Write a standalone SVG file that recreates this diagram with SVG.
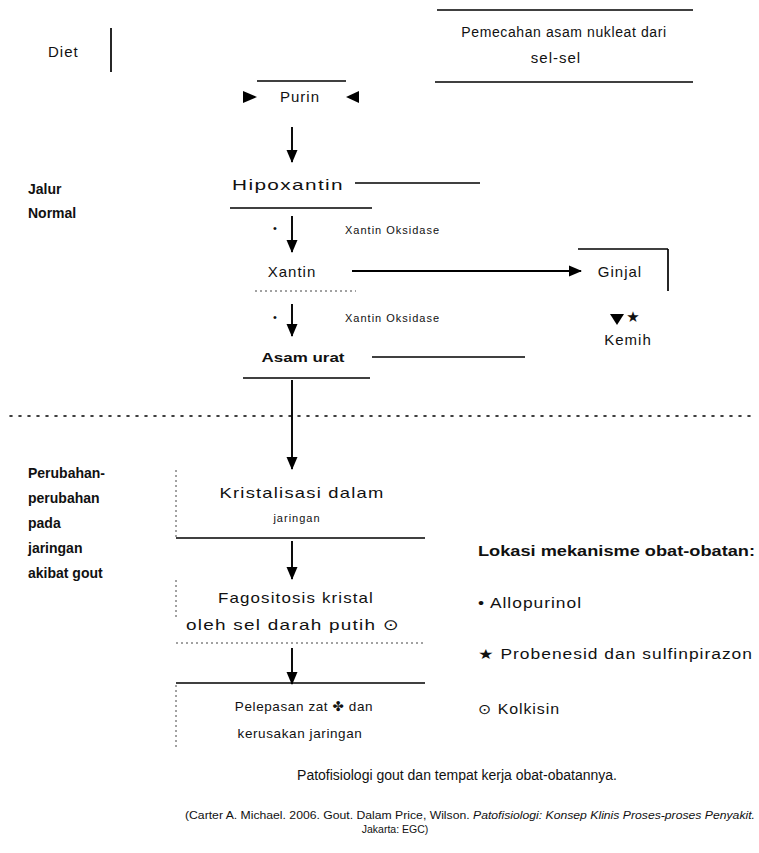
<svg xmlns="http://www.w3.org/2000/svg" width="759" height="853" viewBox="0 0 759 853">
<defs>
<marker id="ah" markerWidth="13" markerHeight="12" refX="12" refY="6" orient="auto" markerUnits="userSpaceOnUse">
<path d="M0,0.5 L13,6 L0,11.5 Z" fill="#000"/>
</marker>
<style>
text{font-family:"Liberation Sans","DejaVu Sans",sans-serif;fill:#111}
.t{font-size:15px;letter-spacing:1px}
.m{font-size:13.5px;letter-spacing:0.6px}
.s{font-size:11px;letter-spacing:1px}
.b{font-size:14px;font-weight:bold}
.lg{font-size:14px;letter-spacing:0.8px}
.ln{stroke:#000;stroke-width:1.7;fill:none}
.dot{stroke:#444;stroke-width:1;stroke-dasharray:2 3;fill:none}
.c{stroke:#000;stroke-width:1.9;fill:none;marker-end:url(#ah)}
</style>
</defs>
<rect width="759" height="853" fill="#fff"/>

<g id="diet">
<line class="ln" x1="111" y1="28" x2="111" y2="72"/>
<text class="t" x="48" y="57">Diet</text>
</g>

<g id="sumber">
<line class="ln" x1="437" y1="10" x2="693" y2="10"/>
<line class="ln" x1="435" y1="82" x2="693" y2="82"/>
<text x="564" y="37" text-anchor="middle" style="font-size:14px;letter-spacing:0.6px">Pemecahan asam nukleat dari</text>
<text class="t" x="556" y="63" text-anchor="middle">sel-sel</text>
</g>

<g id="purin">
<line class="ln" x1="257" y1="81" x2="346" y2="81"/>
<polygon points="243,91 257,97 243,103" fill="#000"/>
<polygon points="359,91 346,97 359,103" fill="#000"/>
<text class="t" x="300" y="102" text-anchor="middle">Purin</text>
</g>

<g id="hipoxantin">
<text class="t" x="288" y="190" text-anchor="middle" textLength="112" lengthAdjust="spacingAndGlyphs">Hipoxantin</text>
<line class="ln" x1="230" y1="208" x2="372" y2="208"/>
</g>

<g id="xantin">
<text class="t" x="292" y="277" text-anchor="middle">Xantin</text>
<line class="dot" x1="255" y1="291" x2="356" y2="291"/>
</g>

<g id="asam-urat">
<text x="303" y="362" text-anchor="middle" style="font-size:13px;font-weight:bold" textLength="83" lengthAdjust="spacingAndGlyphs">Asam urat</text>
<line class="ln" x1="243" y1="378" x2="370" y2="378"/>
</g>

<g id="ginjal">
<line class="ln" x1="578" y1="249" x2="668" y2="249"/>
<line class="ln" x1="668" y1="249" x2="668" y2="291"/>
<text class="t" x="620" y="277" text-anchor="middle">Ginjal</text>
</g>

<g id="kemih">
<polygon points="610,314 624,314 617,325" fill="#000"/>
<text x="633" y="322" text-anchor="middle" style="font-size:15px">★</text>
<text class="t" x="628" y="345" text-anchor="middle">Kemih</text>
</g>

<g id="kristalisasi">
<line class="dot" x1="176" y1="470" x2="176" y2="537"/>
<line class="ln" x1="176" y1="538" x2="425" y2="538"/>
<text class="t" x="302" y="498" text-anchor="middle" textLength="165" lengthAdjust="spacingAndGlyphs">Kristalisasi dalam</text>
<text class="s" x="297" y="522" text-anchor="middle">jaringan</text>
</g>

<g id="fagositosis">
<line class="dot" x1="176" y1="580" x2="176" y2="618"/>
<line class="dot" x1="176" y1="643" x2="425" y2="643"/>
<text class="t" x="296" y="603" text-anchor="middle" textLength="156" lengthAdjust="spacingAndGlyphs">Fagositosis kristal</text>
<text class="t" x="293" y="630" text-anchor="middle" textLength="214" lengthAdjust="spacingAndGlyphs">oleh sel darah putih ⊙</text>
</g>

<g id="pelepasan">
<line class="ln" x1="176" y1="683" x2="425" y2="683"/>
<line class="dot" x1="176" y1="685" x2="176" y2="748"/>
<text class="m" x="304" y="711" text-anchor="middle">Pelepasan zat ✤ dan</text>
<text class="m" x="300" y="738" text-anchor="middle">kerusakan jaringan</text>
</g>

<g id="connectors">
<line class="c" x1="292" y1="127" x2="292" y2="162"/>
<line class="c" x1="292" y1="216" x2="292" y2="252"/>
<line class="c" x1="292" y1="304" x2="292" y2="336"/>
<line class="c" x1="292" y1="380" x2="292" y2="469"/>
<line class="c" x1="292" y1="541" x2="292" y2="579"/>
<line class="c" x1="292" y1="648" x2="292" y2="684"/>
<line class="c" x1="352" y1="271" x2="581" y2="271"/>
<line class="ln" x1="355" y1="183" x2="480" y2="183"/>
<line class="ln" x1="372" y1="357" x2="525" y2="357"/>
</g>

<g id="enzim">
<text x="273" y="232" style="font-size:11px">•</text>
<text class="s" x="345" y="234">Xantin Oksidase</text>
<text x="273" y="321" style="font-size:11px">•</text>
<text class="s" x="345" y="322">Xantin Oksidase</text>
</g>

<line x1="10" y1="416" x2="752" y2="416" stroke="#000" stroke-width="1.6" stroke-dasharray="2 7" stroke-linecap="round"/>

<g id="label-jalur">
<text class="b" x="28" y="194">Jalur</text>
<text class="b" x="28" y="218">Normal</text>
</g>

<g id="label-perubahan">
<text class="b" x="28" y="478">Perubahan-</text>
<text class="b" x="28" y="503">perubahan</text>
<text class="b" x="28" y="528">pada</text>
<text class="b" x="28" y="553">jaringan</text>
<text class="b" x="28" y="578">akibat gout</text>
</g>

<g id="legend">
<text x="478" y="556" style="font-size:15px;font-weight:bold" textLength="277" lengthAdjust="spacingAndGlyphs">Lokasi mekanisme obat-obatan:</text>
<text class="lg" x="478" y="608" textLength="104" lengthAdjust="spacingAndGlyphs">• Allopurinol</text>
<text class="lg" x="478" y="659" textLength="275" lengthAdjust="spacingAndGlyphs">★ Probenesid dan sulfinpirazon</text>
<text class="lg" x="478" y="714" textLength="82" lengthAdjust="spacingAndGlyphs">⊙ Kolkisin</text>
</g>

<g id="caption">
<text x="457" y="780" text-anchor="middle" style="font-size:14px">Patofisiologi gout dan tempat kerja obat-obatannya.</text>
<text x="470" y="819" text-anchor="middle" style="font-size:10.5px" textLength="570" lengthAdjust="spacingAndGlyphs">(Carter A. Michael. 2006. Gout. Dalam Price, Wilson. <tspan font-style="italic">Patofisiologi: Konsep Klinis Proses-proses Penyakit.</tspan></text>
<text x="395" y="833" text-anchor="middle" style="font-size:10.5px">Jakarta: EGC)</text>
</g>
</svg>
